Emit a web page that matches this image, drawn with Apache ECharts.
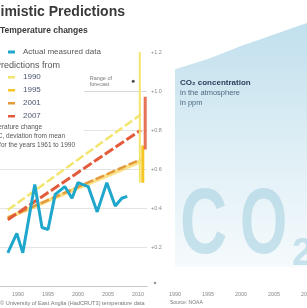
<!DOCTYPE html>
<html>
<head>
<meta charset="utf-8">
<script src="https://cdn.jsdelivr.net/npm/echarts@6/dist/echarts.min.js"></script>
<style>
html,body{margin:0;padding:0;background:#fff;}
#container{width:307px;height:308px;}
</style>
</head>
<body>
<div id="container"></div>
<script>
// measured temperature deviation (°C)
var measuredYears = [1988.3, 1989.8, 1990.8, 1992.8, 1994, 1995, 1996.2, 1997.8, 1999, 2000, 2001.7, 2003.2, 2004.8, 2006.2, 2007.3, 2008.2];
var measuredTemps = [0.17, 0.27, 0.17, 0.52, 0.30, 0.29, 0.47, 0.51, 0.45, 0.53, 0.51, 0.38, 0.53, 0.41, 0.45, 0.46];
// forecasts (start / end)
var forecastNames = ['1990', '1995', '2001', '2007'];
var forecastYears = [1988.3, 2010.5];
var forecast1990 = [0.39, 0.88];
var forecast1995 = [0.35, 0.64];
var forecast2001 = [0.35, 0.65];
var forecast2007 = [0.34, 0.80];
// range of forecast bars at the right end
var range1990 = [[2010.3, 0.53], [2010.3, 1.20]];
var range2001 = [[2010.8, 0.53], [2010.8, 0.72]];
var range2007 = [[2011.2, 0.70], [2011.2, 0.97]];
var rangeNote = [[2009.2, 1.05]];
var tempTicks = ['+0.2', '+0.4', '+0.6', '+0.8', '+1.0', '+1.2'];
// CO2 concentration (ppm)
var co2Years = [1990, 1995, 2000, 2005, 2010];
var co2Ppm = [354, 362, 372, 381, 390];

var colors = {
  blue: '#1fa6cc',
  pale: '#f2e56e',
  yellow: '#f6c624',
  tan: '#e29a3c',
  red: '#e35a3a'
};

function pairs(xs, ys) {
  return xs.map(function (x, i) { return [x, ys[i]]; });
}

var dom = document.getElementById('container');
var myChart = echarts.init(dom, null, {renderer: 'canvas'});

var fanSpan = forecast1990.map(function (v, i) { return +(v - forecast2001[i]).toFixed(3); });

var axisFont = {fontFamily: 'Liberation Sans', fontSize: 5.5, color: '#8a8a8a'};
var yearLabel = function (v) { return String(v); };
var co2Watermark = 'rgba(160,205,222,0.55)';

var option = {
  animation: false,
  backgroundColor: '#fff',
  grid: [
    {left: -12, top: 52, width: 159, height: 234, outerBoundsMode: 'none', containLabel: false},
    {left: 175, top: 23, width: 132, height: 244, outerBoundsMode: 'none', containLabel: false}
  ],
  xAxis: [
    {
      gridIndex: 0, type: 'value', min: 1985, max: 2011.5, interval: 5,
      axisLine: {show: true, lineStyle: {color: '#c8c8c8', width: 1}},
      axisTick: {show: false},
      splitLine: {show: false},
      axisLabel: Object.assign({margin: 5, showMaxLabel: false, formatter: yearLabel}, axisFont)
    },
    {
      gridIndex: 1, type: 'value', min: 1990, max: 2010, interval: 5,
      axisLine: {show: false},
      axisTick: {show: false},
      splitLine: {show: false},
      axisLabel: Object.assign({margin: 24, formatter: yearLabel}, axisFont)
    }
  ],
  yAxis: [
    {
      gridIndex: 0, type: 'value', position: 'right', min: 0, max: 1.2, interval: 0.2,
      axisLine: {show: false},
      axisTick: {show: false},
      splitLine: {show: true, lineStyle: {
        color: ['#e4e4e4', '#e4e4e4', '#e4e4e4', '#e4e4e4', '#e4e4e4', '#d8d8d8', 'rgba(0,0,0,0)'], width: 1}},
      axisLabel: Object.assign({
        margin: 4,
        formatter: function (v) {
          var i = Math.round(v / 0.2) - 1;
          return i >= 0 ? tempTicks[i] : '';
        }
      }, axisFont)
    },
    {
      gridIndex: 1, type: 'value', min: 200, max: 390, show: false
    }
  ],
  series: [
    {
      type: 'line', xAxisIndex: 0, yAxisIndex: 0, stack: 'fan', symbol: 'none',
      lineStyle: {width: 0}, data: pairs(forecastYears, forecast2001), silent: true
    },
    {
      type: 'line', xAxisIndex: 0, yAxisIndex: 0, stack: 'fan', symbol: 'none',
      lineStyle: {width: 0}, areaStyle: {color: 'rgba(248,225,110,0.18)'},
      data: pairs(forecastYears, fanSpan), silent: true
    },
    {
      name: forecastNames[1], type: 'line', xAxisIndex: 0, yAxisIndex: 0, symbol: 'none',
      lineStyle: {color: colors.yellow, width: 4, opacity: 0.55},
      data: pairs(forecastYears, forecast1995)
    },
    {
      name: forecastNames[0], type: 'line', xAxisIndex: 0, yAxisIndex: 0, symbol: 'none',
      lineStyle: {color: colors.pale, width: 2.5, type: [9, 3]},
      data: pairs(forecastYears, forecast1990)
    },
    {
      name: forecastNames[2], type: 'line', xAxisIndex: 0, yAxisIndex: 0, symbol: 'none',
      lineStyle: {color: colors.tan, width: 2.5, type: [9, 3]},
      data: pairs(forecastYears, forecast2001)
    },
    {
      name: forecastNames[3], type: 'line', xAxisIndex: 0, yAxisIndex: 0, symbol: 'none',
      lineStyle: {color: colors.red, width: 3, type: [10, 3]},
      data: pairs(forecastYears, forecast2007)
    },
    {
      type: 'line', xAxisIndex: 0, yAxisIndex: 0, symbol: 'none',
      lineStyle: {color: colors.pale, width: 2}, data: range1990
    },
    {
      type: 'line', xAxisIndex: 0, yAxisIndex: 0, symbol: 'none',
      lineStyle: {color: colors.yellow, width: 3}, data: range2001
    },
    {
      type: 'line', xAxisIndex: 0, yAxisIndex: 0, symbol: 'none',
      lineStyle: {color: colors.red, width: 3, opacity: 0.85}, data: range2007
    },
    {
      type: 'scatter', xAxisIndex: 0, yAxisIndex: 0, symbolSize: 3,
      itemStyle: {color: '#222'},
      label: {
        show: true, position: 'left', distance: 42, formatter: 'Range of\nforecast',
        fontFamily: 'Liberation Sans', fontSize: 5.5, color: '#555', lineHeight: 6.5, align: 'left'
      },
      data: rangeNote
    },
    {
      name: 'Actual measured data', type: 'line', xAxisIndex: 0, yAxisIndex: 0, symbol: 'none',
      lineStyle: {color: colors.blue, width: 3},
      data: pairs(measuredYears, measuredTemps), z: 5
    },
    {
      name: 'CO2', type: 'line', xAxisIndex: 1, yAxisIndex: 1, symbol: 'none',
      lineStyle: {width: 0},
      areaStyle: {
        color: new echarts.graphic.LinearGradient(0, 0, 0, 1, [
          {offset: 0, color: '#a6d2e5'},
          {offset: 0.55, color: '#d3e9f2'},
          {offset: 1, color: '#f1f8fb'}
        ])
      },
      data: pairs(co2Years, co2Ppm), z: 1
    }
  ],
  graphic: [
    // white panel behind the legend block (hides grid lines there)
    {type: 'rect', z: 1, silent: true, shape: {x: 0, y: 84, width: 84, height: 64}, style: {fill: '#fff'}},
    // CO2 watermark
    {type: 'text', x: 180, y: 182, z: 2, silent: true, scaleX: 0.71,
      style: {text: 'C', font: 'bold 92px "Liberation Sans"', fill: co2Watermark}},
    {type: 'text', x: 240, y: 182, z: 2, silent: true, scaleX: 0.66,
      style: {text: 'O', font: 'bold 92px "Liberation Sans"', fill: co2Watermark}},
    {type: 'text', x: 292, y: 236, z: 2, silent: true,
      style: {text: '2', font: 'bold 38px "Liberation Sans"', fill: co2Watermark}},
    {type: 'text', x: 180, y: 79, z: 3,
      style: {text: 'CO₂ concentration', font: 'bold 8px "Liberation Sans"', fill: '#2b3f58'}},
    {type: 'text', x: 180, y: 89, z: 3,
      style: {text: 'in the atmosphere', font: '7.5px "Liberation Sans"', fill: '#4d6b82'}},
    {type: 'text', x: 180, y: 99, z: 3,
      style: {text: 'in ppm', font: '7.5px "Liberation Sans"', fill: '#4d6b82'}},
    // titles
    {type: 'text', x: 125, y: 5, z: 3,
      style: {text: 'Pessimistic Predictions', font: 'bold 14px "Liberation Sans"', fill: '#3a3a3a', align: 'right'}},
    {type: 'text', x: 0, y: 26, z: 3,
      style: {text: 'Temperature changes', font: 'bold 8.5px "Liberation Sans"', fill: '#3a3a3a'}},
    // legend
    {type: 'rect', z: 3, shape: {x: 8, y: 50.5, width: 7, height: 3}, style: {fill: colors.blue}},
    {type: 'text', z: 3, x: 23, y: 48, style: {text: 'Actual measured data', font: '8px "Liberation Sans"', fill: '#555'}},
    {type: 'text', z: 3, x: 60, y: 61, style: {text: 'Predictions from', font: '9px "Liberation Sans"', fill: '#555', align: 'right'}},
    {type: 'rect', z: 3, shape: {x: 8, y: 76, width: 7, height: 2.5}, style: {fill: colors.pale}},
    {type: 'text', z: 3, x: 23, y: 73, style: {text: forecastNames[0], font: '8px "Liberation Sans"', fill: '#4a5570'}},
    {type: 'rect', z: 3, shape: {x: 8, y: 89, width: 7, height: 2.5}, style: {fill: colors.yellow}},
    {type: 'text', z: 3, x: 23, y: 86, style: {text: forecastNames[1], font: '8px "Liberation Sans"', fill: '#4a5570'}},
    {type: 'rect', z: 3, shape: {x: 8, y: 102, width: 7, height: 2.5}, style: {fill: colors.tan}},
    {type: 'text', z: 3, x: 23, y: 99, style: {text: forecastNames[2], font: '8px "Liberation Sans"', fill: '#4a5570'}},
    {type: 'rect', z: 3, shape: {x: 8, y: 115, width: 7, height: 2.5}, style: {fill: colors.red}},
    {type: 'text', z: 3, x: 23, y: 112, style: {text: forecastNames[3], font: '8px "Liberation Sans"', fill: '#4a5570'}},
    {type: 'text', z: 3, x: 42, y: 124, style: {text: 'Temperature change', font: '6.5px "Liberation Sans"', fill: '#555', align: 'right'}},
    {type: 'text', z: 3, x: 65, y: 133, style: {text: 'in °C, deviation from mean', font: '6.5px "Liberation Sans"', fill: '#555', align: 'right'}},
    {type: 'text', z: 3, x: 75, y: 142, style: {text: 'for the years 1961 to 1990', font: '6.5px "Liberation Sans"', fill: '#555', align: 'right'}},
    // axis end dot
    {type: 'circle', shape: {cx: 155, cy: 283, r: 1.3}, style: {fill: '#9a9a9a'}},
    // sources
    {type: 'text', x: 0, y: 300, style: {text: '© University of East Anglia (HadCRUT3) temperature data', font: '5.6px "Liberation Sans"', fill: '#777'}},
    {type: 'text', x: 170, y: 300, style: {text: 'Source: NOAA', font: '5px "Liberation Sans"', fill: '#777'}}
  ]
};

myChart.setOption(option);
window.addEventListener('resize', function () {
  myChart.resize();
});
</script>
</body>
</html>
